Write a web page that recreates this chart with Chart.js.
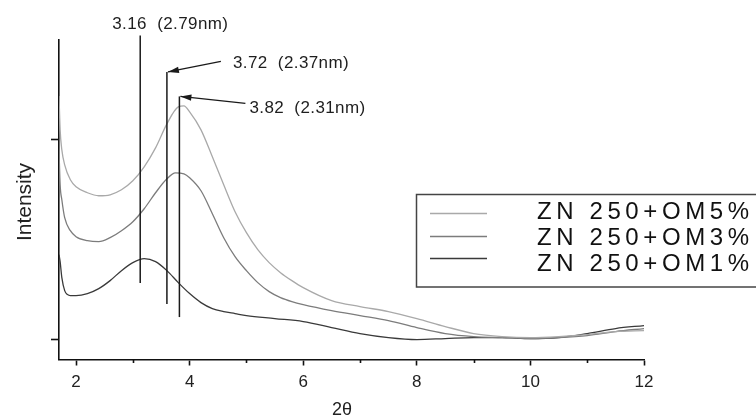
<!DOCTYPE html>
<html>
<head>
<meta charset="utf-8">
<script src="https://cdn.jsdelivr.net/npm/chart.js@4/dist/chart.umd.min.js"></script>
<style>
  html, body { margin: 0; padding: 0; background: #fff; }
  #wrap { width: 756px; height: 419px; position: relative; }
</style>
</head>
<body>
<div id="wrap"><canvas id="c" width="756" height="419"></canvas></div>
<script>
// ---- data ----
const seriesLabels = ['ZN 250+OM5%', 'ZN 250+OM3%', 'ZN 250+OM1%'];
const seriesColors = ['#a9a9a9', '#7c7c7c', '#3a3a3a'];

const om5X = [1.70,1.72,1.75,1.80,1.90,2.00,2.20,2.40,2.60,2.80,3.00,3.20,3.40,3.60,3.80,3.90,4.00,4.20,4.40,4.60,4.80,5.00,5.20,5.40,5.60,5.80,6.00,6.50,7.00,7.50,8.00,8.50,9.00,9.50,10.0,10.5,11.0,11.5,12.0];
const om5Y = [244,210,190,175,160,153,147,144,145,150,159,173,192,216,233,234,228,210,183,155,128,107,90,77,67,59,52,39,33,28,21,13,6,3,2,3,5,8,9];

const om3X = [1.70,1.72,1.75,1.80,1.90,2.00,2.20,2.40,2.60,2.80,3.00,3.20,3.40,3.60,3.75,3.90,4.00,4.20,4.40,4.60,4.80,5.00,5.20,5.40,5.60,5.80,6.00,6.50,7.00,7.50,8.00,8.50,9.00,9.50,10.0,10.5,11.0,11.5,12.0];
const om3Y = [190,155,140,122,109,103,99,98,102,109,118,131,147,161,167,166,162,149,126,102,83,69,57,48,42,38,35,29,24,19,12,6,3,2,1,2,4,8,11];

const om1X = [1.70,1.72,1.75,1.80,1.85,1.90,2.00,2.20,2.40,2.60,2.80,3.00,3.20,3.40,3.60,3.80,4.00,4.20,4.40,4.60,4.80,5.00,5.50,6.00,6.50,7.00,7.50,8.00,8.50,9.00,9.50,10.0,10.5,11.0,11.5,12.0];
const om1Y = [85,78,62,49,45,44,44,46,51,59,69,77,81,78,69,57,46,37,31,28,26,24,21,18,12,6,2,0,1,2,2,1,2,6,11,14];

const xTicks = [2, 4, 6, 8, 10, 12];
const xMinorTicks = [3, 5, 7, 9, 11];
const yTicks = [0, 200];

// peak markers (position, top, bottom) and their labels
const markX = [3.13, 3.60, 3.82];
const markTop = [304.5, 268, 243.5];
const markBottom = [56.5, 35.5, 22.5];
const markLabels = ['3.16  (2.79nm)', '3.72  (2.37nm)', '3.82  (2.31nm)'];

const FONT = '"Liberation Sans", Arial, Helvetica, sans-serif';

function pts(xs, ys) { return xs.map((x, i) => ({ x: x, y: ys[i] })); }

const overlay = {
  id: 'overlay',
  afterDraw(chart) {
    const ctx = chart.ctx;
    const xs = chart.scales.x, ys = chart.scales.y;
    const area = chart.chartArea;
    ctx.save();

    // minor x ticks
    ctx.strokeStyle = '#111';
    ctx.lineWidth = 1.6;
    xMinorTicks.forEach(v => {
      const px = Math.round(xs.getPixelForValue(v)) + 0.5;
      ctx.beginPath();
      ctx.moveTo(px, area.bottom);
      ctx.lineTo(px, area.bottom + 3.5);
      ctx.stroke();
    });

    // peak marker lines
    ctx.strokeStyle = '#1a1a1a';
    ctx.lineWidth = 1.5;
    const tops = [];
    markX.forEach((v, i) => {
      const px = xs.getPixelForValue(v);
      const pt = ys.getPixelForValue(markTop[i]);
      const pb = ys.getPixelForValue(markBottom[i]);
      tops.push([px, pt]);
      ctx.beginPath();
      ctx.moveTo(px, pt);
      ctx.lineTo(px, pb);
      ctx.stroke();
    });

    // arrows for markers 2 and 3
    function arrow(x0, y0, x1, y1) {
      ctx.beginPath();
      ctx.moveTo(x0, y0);
      ctx.lineTo(x1, y1);
      ctx.lineWidth = 1.3;
      ctx.stroke();
      const a = Math.atan2(y1 - y0, x1 - x0);
      const L = 11, W = 3.2;
      ctx.beginPath();
      ctx.moveTo(x1, y1);
      ctx.lineTo(x1 - L * Math.cos(a) + W * Math.sin(a), y1 - L * Math.sin(a) - W * Math.cos(a));
      ctx.lineTo(x1 - L * Math.cos(a) - W * Math.sin(a), y1 - L * Math.sin(a) + W * Math.cos(a));
      ctx.closePath();
      ctx.fillStyle = '#1a1a1a';
      ctx.fill();
    }
    arrow(tops[1][0] + 54, tops[1][1] - 10.5, tops[1][0] + 1, tops[1][1]);
    arrow(tops[2][0] + 66, tops[2][1] + 7, tops[2][0] + 1, tops[2][1]);

    // marker labels
    ctx.fillStyle = '#1e1e1e';
    ctx.font = '17px ' + FONT;
    ctx.textAlign = 'left';
    ctx.textBaseline = 'middle';
    if ('letterSpacing' in ctx) ctx.letterSpacing = '0.4px';
    ctx.fillText(markLabels[0], tops[0][0] - 28, tops[0][1] - 11);
    ctx.fillText(markLabels[1], tops[1][0] + 66, tops[1][1] - 9);
    ctx.fillText(markLabels[2], tops[2][0] + 70, tops[2][1] + 12);

    // legend box
    ctx.letterSpacing = '0px';
    ctx.strokeStyle = '#444';
    ctx.lineWidth = 1.5;
    ctx.strokeRect(416.5, 194.5, 360, 92.5);
    const rowText = [212, 238, 264];
    const rowLine = [213, 236, 258];
    chart.data.datasets.forEach((ds, i) => {
      ctx.strokeStyle = ds.borderColor;
      ctx.lineWidth = 1.3;
      ctx.beginPath();
      ctx.moveTo(430, rowLine[i] + 0.5);
      ctx.lineTo(487, rowLine[i] + 0.5);
      ctx.stroke();
      ctx.fillStyle = '#111';
      ctx.font = '24px ' + FONT;
      if ('letterSpacing' in ctx) ctx.letterSpacing = '4.6px';
      ctx.textBaseline = 'middle';
      ctx.fillText(ds.label, 537, rowText[i]);
      ctx.letterSpacing = '0px';
    });

    // axis titles
    ctx.fillStyle = '#222';
    ctx.textAlign = 'center';
    ctx.textBaseline = 'middle';
    ctx.font = '18px ' + FONT;
    ctx.fillText('2\u03B8', 342, 410);
    ctx.save();
    ctx.translate(25, 202);
    ctx.rotate(-Math.PI / 2);
    ctx.font = '21px ' + FONT;
    ctx.fillText('Intensity', 0, 0);
    ctx.restore();

    ctx.restore();
  }
};

new Chart(document.getElementById('c'), {
  type: 'line',
  data: {
    datasets: [
      { label: seriesLabels[0], data: pts(om5X, om5Y), borderColor: seriesColors[0] },
      { label: seriesLabels[1], data: pts(om3X, om3Y), borderColor: seriesColors[1] },
      { label: seriesLabels[2], data: pts(om1X, om1Y), borderColor: seriesColors[2] }
    ].map(d => Object.assign(d, {
      borderWidth: 1.3, pointRadius: 0, fill: false, cubicInterpolationMode: 'monotone'
    }))
  },
  options: {
    responsive: false,
    devicePixelRatio: 1,
    animation: false,
    layout: { padding: { top: 40, right: 112, left: 0, bottom: 0 } },
    plugins: { legend: { display: false }, tooltip: { enabled: false }, title: { display: false } },
    scales: {
      x: {
        type: 'linear', min: 1.70, max: 12, position: 'bottom',
        afterBuildTicks: s => { s.ticks = xTicks.map(v => ({ value: v })); },
        afterFit: s => { s.height = 59.5; },
        border: { display: true, color: '#111', width: 1.6 },
        grid: { display: true, drawOnChartArea: false, drawTicks: true, tickLength: 6, color: '#111', tickWidth: 1.6 },
        ticks: { color: '#222', font: { size: 17, family: FONT }, padding: 7, maxRotation: 0 }
      },
      y: {
        type: 'linear', min: -20, max: 300, position: 'left',
        afterBuildTicks: s => { s.ticks = yTicks.map(v => ({ value: v })); },
        afterFit: s => { s.width = 59; },
        border: { display: true, color: '#111', width: 1.6 },
        grid: { display: true, drawOnChartArea: false, drawTicks: true, tickLength: 8, color: '#111', tickWidth: 1.6 },
        ticks: { display: false }
      }
    }
  },
  plugins: [overlay]
});
</script>
</body>
</html>
